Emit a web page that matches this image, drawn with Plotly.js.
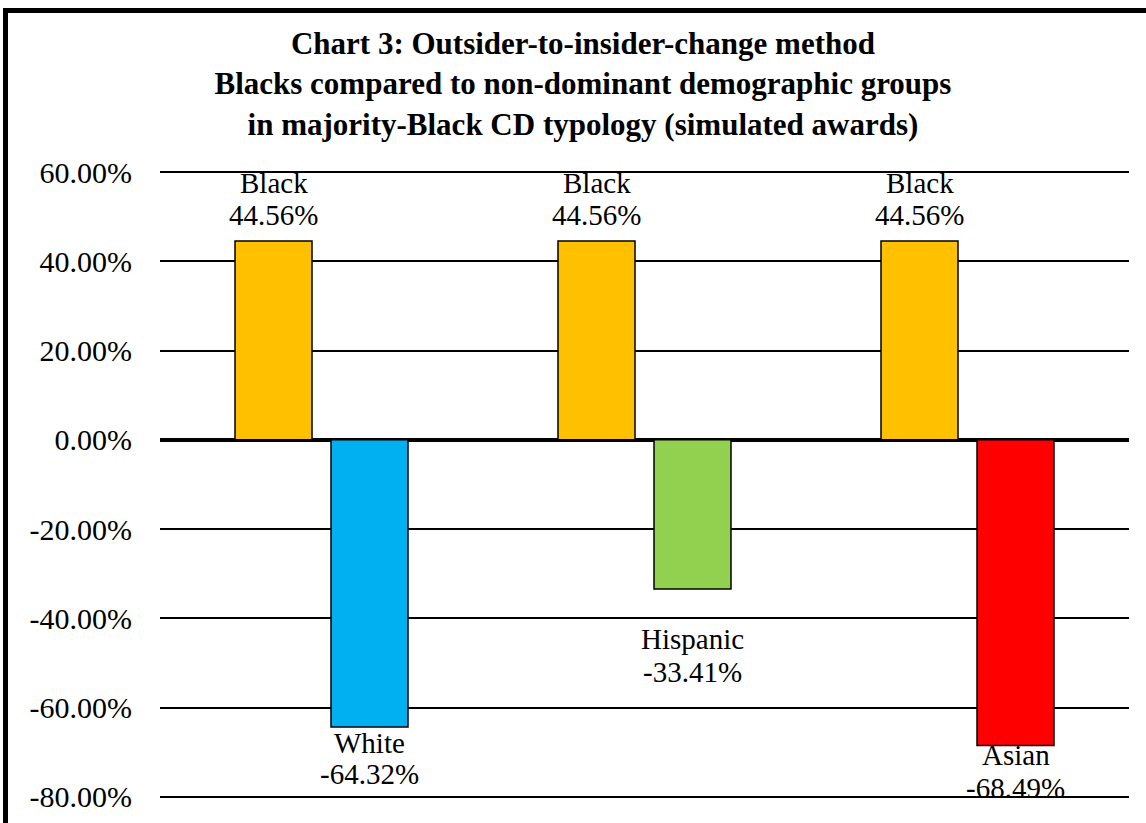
<!DOCTYPE html>
<html><head><meta charset="utf-8">
<script src="https://cdn.plot.ly/plotly-3.0.1.min.js"></script>
<style>
html,body{margin:0;padding:0;background:#fff;overflow:hidden}
#chart{width:1146px;height:823px;position:absolute;left:0;top:0}
#frame{position:absolute;left:3px;top:8px;width:1300px;height:1000px;border-left:5px solid #000;border-top:5px solid #000;pointer-events:none}
</style></head><body>
<div id="chart"></div><div id="frame"></div>
<script>
// ---- data ----
const categories = ["White", "Hispanic", "Asian"];
const blackName = "Black";
const blackValues = [44.56, 44.56, 44.56];
const groupNames = ["White", "Hispanic", "Asian"];
const groupValues = [-64.32, -33.41, -68.49];
const tickValues = [-80, -60, -40, -20, 0, 20, 40, 60];
const tickLabels = ["-80.00%", "-60.00%", "-40.00%", "-20.00%", "0.00%", "20.00%", "40.00%", "60.00%"];
const titleLines = [
  "Chart 3: Outsider-to-insider-change method",
  "Blacks compared to non-dominant demographic groups",
  "in majority-Black CD typology (simulated awards)"
];

// ---- styles ----
const FONT = "Liberation Serif, Times New Roman, serif";
const blackColor = "#FFC000";
const groupColors = ["#00B0F0", "#92D050", "#FF0000"];
const barShift = 48;               // px from category centre to bar centre
const blackLabelShift = [58, 26];  // name, value (px above bar end)
const groupLabelShift = [[-16, -47], [-50, -83], [-9, -42]];
const labelSize = 29;

const fmt = v => v.toFixed(2) + "%";

const traces = [
  {
    type: "bar", name: blackName, x: categories, y: blackValues,
    marker: {color: blackColor, line: {color: "#000", width: 1.5}},
    hoverinfo: "skip"
  },
  {
    type: "bar", name: "Comparison group", x: categories, y: groupValues,
    marker: {color: groupColors, line: {color: "#000", width: 1.5}},
    hoverinfo: "skip"
  }
];

const annotations = [];
categories.forEach((c, i) => {
  annotations.push({x: c, y: blackValues[i], text: blackName, xshift: -barShift, yshift: blackLabelShift[0]});
  annotations.push({x: c, y: blackValues[i], text: fmt(blackValues[i]), xshift: -barShift, yshift: blackLabelShift[1]});
  annotations.push({x: c, y: groupValues[i], text: groupNames[i], xshift: barShift, yshift: groupLabelShift[i][0]});
  annotations.push({x: c, y: groupValues[i], text: fmt(groupValues[i]), xshift: barShift, yshift: groupLabelShift[i][1]});
});
annotations.forEach(a => Object.assign(a, {
  xref: "x", yref: "y", showarrow: false, xanchor: "center", yanchor: "middle",
  font: {family: FONT, size: labelSize, color: "#000"}
}));

const layout = {
  width: 1146, height: 823,
  margin: {l: 160, r: 17, t: 171, b: 25, pad: 0},
  paper_bgcolor: "#fff", plot_bgcolor: "#fff",
  showlegend: false,
  barmode: "group", bargap: 0.4056, bargroupgap: 0.198,
  title: {
    text: titleLines.map(s => "<b>" + s + "</b>").join("<br>"),
    font: {family: FONT, size: 31, color: "#000"},
    x: 0.5087, xref: "container", xanchor: "center",
    y: 0.9344, yref: "container", yanchor: "top"
  },
  xaxis: {
    type: "category", showticklabels: false, ticks: "", showgrid: false,
    zeroline: false, showline: false, range: [-0.5, 2.5], fixedrange: true
  },
  yaxis: {
    range: [-80.25, 60.25], tickmode: "array", tickvals: tickValues, ticktext: tickLabels,
    showgrid: true, gridcolor: "#000", gridwidth: 2,
    zeroline: true, zerolinecolor: "#000", zerolinewidth: 3.5,
    showline: false, ticks: "", ticklabelstandoff: 27,
    tickfont: {family: FONT, size: 30, color: "#000"}, fixedrange: true
  },
  annotations: annotations
};

Plotly.newPlot("chart", traces, layout, {displayModeBar: false, staticPlot: true});
</script>
</body></html>
